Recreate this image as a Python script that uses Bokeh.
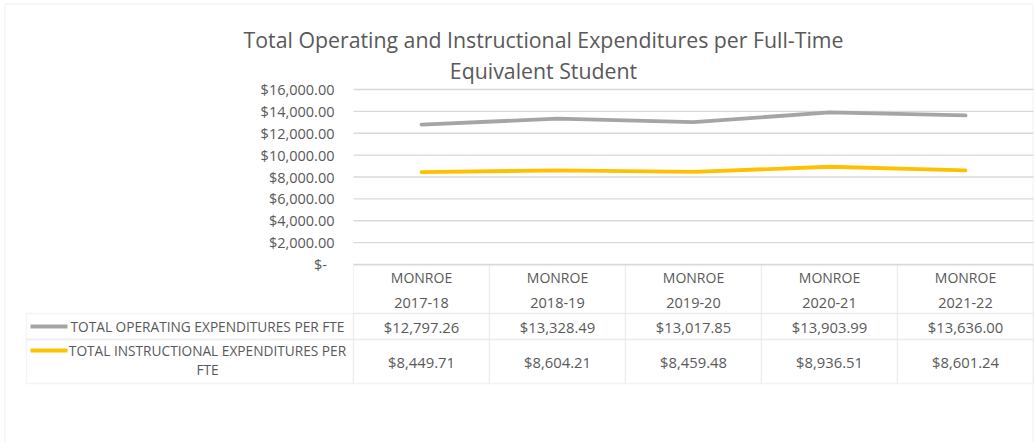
import textwrap
from bokeh.plotting import figure
from bokeh.models import (Range1d, FixedTicker, NumeralTickFormatter, BoxAnnotation,
                          Label, LabelSet, ColumnDataSource)
from bokeh.core.properties import value
from bokeh.embed import file_html
from bokeh.resources import INLINE

# ---------------- data ----------------
district = "MONROE"
years = ["2017-18", "2018-19", "2019-20", "2020-21", "2021-22"]
operating = [12797.26, 13328.49, 13017.85, 13903.99, 13636.00]
instructional = [8449.71, 8604.21, 8459.48, 8936.51, 8601.24]
series_names = ["TOTAL OPERATING EXPENDITURES PER FTE",
                "TOTAL INSTRUCTIONAL EXPENDITURES PER FTE"]
series_colors = ["#a5a5a5", "#ffc000"]
y_ticks = [0, 2000, 4000, 6000, 8000, 10000, 12000, 14000, 16000]
title_lines = ["Total Operating and Instructional Expenditures per Full-Time",
               "Equivalent Student"]

# ---------------- layout (page pixels) ----------------
FX, FY = 0, 0            # figure origin on the page
W, H = 1034, 442
PL, PR = 353, 1033       # plot area left / right
PT, PB = 89, 264         # plot area top / bottom
YMAX = y_ticks[-1]
n = len(years)
xs = list(range(n))
col_w = (PR - PL) / n

FONT = "Open Sans"
TXT = "#595959"
BORDER = "#d9d9d9"


def xd(px):
    return -0.5 + (px - PL) / col_w


def yd(py):
    return (PB - py) * YMAX / (PB - PT)


p = figure(width=W, height=H,
           x_range=Range1d(xd(FX), xd(FX + W)), y_range=Range1d(yd(FY + H), yd(FY)),
           output_backend="svg", toolbar_location=None, x_axis_location=None,
           min_border=0)
p.outline_line_color = None
p.background_fill_color = "white"
p.border_fill_color = "white"

ax = p.yaxis[0]
ax.fixed_location = -0.5
ax.ticker = FixedTicker(ticks=y_ticks)
ax.formatter = NumeralTickFormatter(format="$0,0.00")
ax.major_label_overrides = {0: "$-\u00a0\u00a0"}
ax.axis_line_color = None
ax.major_tick_line_color = None
ax.minor_tick_line_color = None
ax.major_tick_out = 0
ax.major_tick_in = 0
ax.major_label_standoff = 19
ax.major_label_text_font = FONT
ax.major_label_text_font_size = "14.5px"
ax.major_label_text_color = TXT
p.xgrid.visible = False
p.ygrid.visible = False

# horizontal gridlines, limited to the plot area
gsrc = ColumnDataSource(dict(y=y_ticks, x0=[-0.5] * len(y_ticks), x1=[n - 0.5] * len(y_ticks)))
p.segment(x0="x0", x1="x1", y0="y", y1="y", source=gsrc, line_color=BORDER, line_width=1.3)

src = ColumnDataSource(dict(x=xs, op=operating, ins=instructional))
for col, c in zip(["op", "ins"], series_colors):
    p.line("x", col, source=src, line_color=c, line_width=3.8,
           line_cap="round", line_join="round")

# ---------------- title ----------------
for t, cy in zip(title_lines, [38.5, 70]):
    p.add_layout(Label(x=xd(543), y=yd(cy), text=t, text_align="center",
                       text_baseline="middle", text_font=FONT,
                       text_font_size="21.3px", text_color=TXT))

# ---------------- outer chart border ----------------
p.add_layout(BoxAnnotation(left=xd(4.5), right=xd(1032.5), top=yd(3.5), bottom=yd(600),
                           fill_color=None, line_color=BORDER, line_width=1.3))

# ---------------- data table ----------------
rows = [(265, 313), (313, 339), (339, 383)]
for i in xs:
    for t, b in rows:
        p.add_layout(BoxAnnotation(left=i - 0.5, right=i + 0.5, top=yd(t), bottom=yd(b),
                                   fill_color=None, line_color=BORDER, line_width=1.3))
for t, b in rows[1:]:
    p.add_layout(BoxAnnotation(left=xd(26), right=-0.5, top=yd(t), bottom=yd(b),
                               fill_color=None, line_color=BORDER, line_width=1.3))

tsrc = ColumnDataSource(dict(
    x=xs,
    dist=[district] * n,
    yr=years,
    op=["${:,.2f}".format(v) for v in operating],
    ins=["${:,.2f}".format(v) for v in instructional],
    y_dist=[yd(277)] * n, y_yr=[yd(302)] * n,
    y_op=[yd(326)] * n, y_ins=[yd(361)] * n,
))
for txt, ycol, fs in [("dist", "y_dist", "14px"), ("yr", "y_yr", "14.5px"),
                      ("op", "y_op", "14.8px"), ("ins", "y_ins", "14.8px")]:
    p.add_layout(LabelSet(x="x", y=ycol, text=txt, source=tsrc, text_align="center",
                          text_baseline="middle", text_font=value(FONT),
                          text_font_size=fs, text_color=TXT))

# legend column
key_y = [326, 350]
name_y = [[326], [350, 369]]
for name, c, ky, ny in zip(series_names, series_colors, key_y, name_y):
    p.add_layout(BoxAnnotation(left=xd(30), right=xd(67), top=yd(ky - 2), bottom=yd(ky + 2),
                               fill_color=c, fill_alpha=1.0, line_color=None))
    for line, yy in zip(textwrap.wrap(name, 36), ny):
        p.add_layout(Label(x=xd(207), y=yd(yy), text=line, text_align="center",
                           text_baseline="middle", text_font=FONT,
                           text_font_size="13.7px", text_color=TXT))

open("out.html", "w").write(file_html(p, INLINE))
